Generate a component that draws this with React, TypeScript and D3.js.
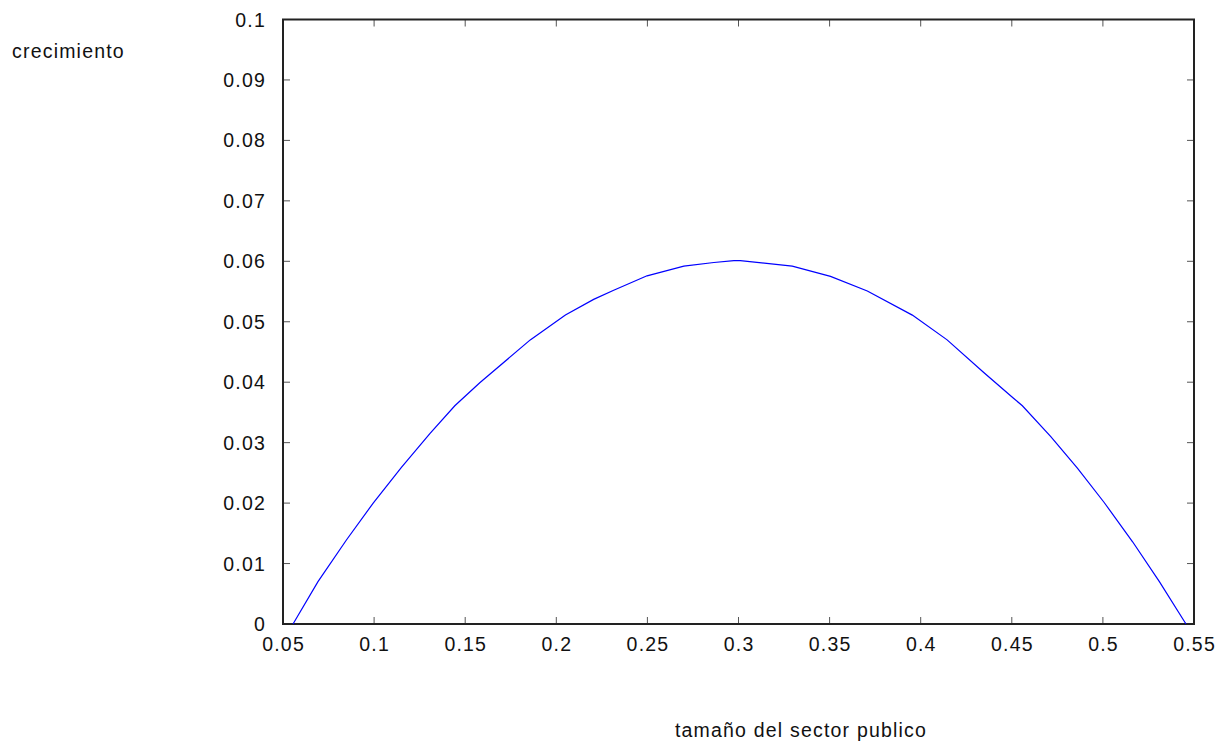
import React, { useRef, useEffect } from "react";
import * as d3 from "d3";

// values
const sectorSize = [
  0.0555, 0.0692, 0.0848, 0.0995, 0.115, 0.1306, 0.1443, 0.158, 0.1857, 0.205,
  0.2205, 0.2315, 0.2498, 0.27, 0.2865, 0.2975, 0.301, 0.3295, 0.3505, 0.3707,
  0.3954, 0.4145, 0.4346, 0.4511, 0.4558, 0.4714, 0.486, 0.5007, 0.5163, 0.531,
  0.5456,
];
const growth = [
  0.0, 0.007, 0.0139, 0.02, 0.0259, 0.0315, 0.0361, 0.0399, 0.047, 0.0511,
  0.0537, 0.0552, 0.0576, 0.0592, 0.0598, 0.0601, 0.0601, 0.0592, 0.0575, 0.0551,
  0.0511, 0.047, 0.0416, 0.0373, 0.0361, 0.031, 0.0258, 0.0201, 0.0136, 0.007,
  0.0,
];
const xTicks = [0.05, 0.1, 0.15, 0.2, 0.25, 0.3, 0.35, 0.4, 0.45, 0.5, 0.55];
const yTicks = [0, 0.01, 0.02, 0.03, 0.04, 0.05, 0.06, 0.07, 0.08, 0.09, 0.1];

const App = () => {
  const svgRef = useRef<SVGSVGElement>(null);
  const width = 1232;
  const height = 749;
  const left = 283;
  const right = 1194;
  const top = 19.5;
  const bottom = 624;
  const font = "'Liberation Sans', Arial, sans-serif";

  useEffect(() => {
    const svg = d3.select(svgRef.current);
    svg.selectAll("*").remove();

    const x = d3.scaleLinear().domain([0.05, 0.55]).range([left, right]);
    const y = d3.scaleLinear().domain([0, 0.1]).range([bottom, top]);
    const tl = 7;

    // ticks on all four sides, pointing inward
    const ticks = svg.append("g").attr("stroke", "#555").attr("stroke-width", 1);
    xTicks.forEach((t) => {
      ticks.append("line").attr("x1", x(t)).attr("x2", x(t)).attr("y1", bottom).attr("y2", bottom - tl);
      ticks.append("line").attr("x1", x(t)).attr("x2", x(t)).attr("y1", top).attr("y2", top + tl);
    });
    yTicks.forEach((t) => {
      ticks.append("line").attr("x1", left).attr("x2", left + tl).attr("y1", y(t)).attr("y2", y(t));
      ticks.append("line").attr("x1", right).attr("x2", right - tl).attr("y1", y(t)).attr("y2", y(t));
    });

    svg.append("rect")
      .attr("x", left).attr("y", top)
      .attr("width", right - left).attr("height", bottom - top)
      .attr("fill", "none").attr("stroke", "#222").attr("stroke-width", 2);

    const labels = svg.append("g")
      .attr("font-family", font).attr("font-size", "19.5px")
      .attr("letter-spacing", "1.2px").attr("fill", "#111");
    xTicks.forEach((t) => {
      labels.append("text")
        .attr("x", x(t) + 0.6).attr("y", 651)
        .attr("text-anchor", "middle")
        .text(d3.format("")(t));
    });
    yTicks.forEach((t) => {
      labels.append("text")
        .attr("x", 266).attr("y", y(t)).attr("dy", "0.36em")
        .attr("text-anchor", "end")
        .text(d3.format("")(t));
    });

    labels.append("text").attr("x", 12).attr("y", 58).text("crecimiento");
    labels.append("text").attr("x", 801).attr("y", 737)
      .attr("text-anchor", "middle").text("tamaño del sector publico");

    const line = d3.line<number>()
      .x((d, i) => x(sectorSize[i]))
      .y((d) => y(d));

    svg.append("path")
      .datum(growth)
      .attr("d", line)
      .attr("fill", "none")
      .attr("stroke", "#0000ff")
      .attr("stroke-width", 1.2);
  }, []);

  return (
    <div>
      <svg
        ref={svgRef}
        width={width}
        height={height}
        style={{ position: "absolute", left: 0, top: 0, background: "#fff" }}
      />
    </div>
  );
};

export default App;
